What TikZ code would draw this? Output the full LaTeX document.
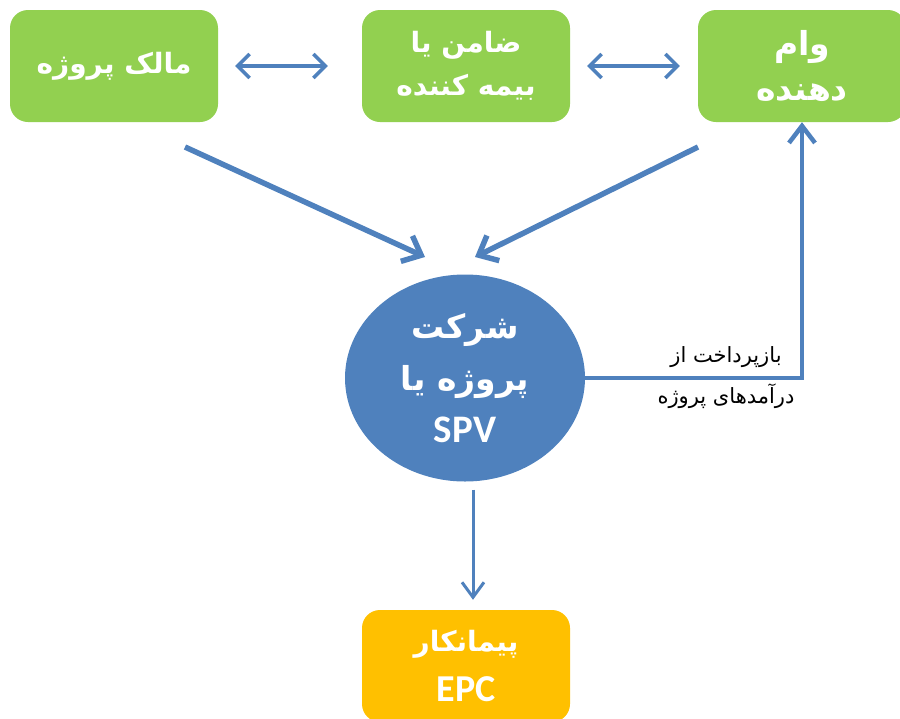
\documentclass[tikz,border=0pt]{standalone}
\usepackage{fontspec}
\usetikzlibrary{shapes.geometric,arrows.meta}
\TeXXeTstate=1
\newfontfamily\arabicfont[Script=Arabic]{DejaVu Sans}
\newfontfamily\calib{Carlito}
\definecolor{boxgreen}{HTML}{92D050}
\definecolor{arrblue}{HTML}{4F81BD}
\definecolor{epcorange}{HTML}{FFC000}
\newcommand{\rtlb}[1]{{\arabicfont\bfseries\beginR #1\endR}}
\newcommand{\rtlr}[1]{{\arabicfont\beginR #1\endR}}
\begin{document}
\begin{tikzpicture}[x=1pt,y=-1pt,
  greenbox/.style={fill=boxgreen, draw=none, rounded corners=18pt, minimum width=208pt, minimum height=112pt, text=white, align=center, font=\fontsize{28}{43}\selectfont, inner sep=0pt},
  orangebox/.style={greenbox, fill=epcorange, font=\fontsize{28}{50}\selectfont},
  dbl/.style={draw=arrblue, line width=3.5pt, {Straight Barb[length=12pt,width=24pt]}-{Straight Barb[length=12pt,width=24pt]}},
  thick arrow/.style={draw=arrblue, line width=5.5pt, -{Straight Barb[length=16pt,width=28pt]}},
  up arrow/.style={draw=arrblue, line width=4.5pt, -{Straight Barb[length=17pt,width=26pt]}},
  down arrow/.style={draw=arrblue, line width=3pt, -{Straight Barb[length=15pt,width=22pt]}}]
\useasboundingbox (0,0) rectangle (900,718);
\node[greenbox] (owner) at (114,66) {\rtlb{مالک پروژه}};
\node[greenbox] (guarantor) at (466,66) {\rtlb{ضامن یا}\\\rtlb{بیمه کننده}};
\node[greenbox, font=\fontsize{33}{45}\selectfont] (lender) at (802,66) {\rtlb{وام}\\\rtlb{دهنده}};
\node[ellipse, fill=arrblue, minimum width=240pt, minimum height=207pt, inner sep=0pt, text=white, align=center, font=\fontsize{33}{52}\selectfont] (spv) at (465,378) {\rtlb{شرکت}\\\rtlb{پروژه یا}\\{\calib\bfseries\fontsize{39}{52}\selectfont SPV}};
\node[orangebox] (epc) at (466,666) {\rtlb{پیمانکار}\\{\calib\bfseries\fontsize{38}{50}\selectfont EPC}};
\node[font=\fontsize{21}{41}\selectfont, align=center, inner sep=0pt] (lbl) at (726,378) {\rtlr{بازپرداخت از}\\\rtlr{درآمدهای پروژه}};
\coordinate (a1s) at (185,147);
\coordinate (a1e) at (425,257);
\coordinate (a2s) at (698,147);
\coordinate (a2e) at (475,257);
\draw[dbl, shorten <=17pt, shorten >=34pt] (owner.east) -- (guarantor.west);
\draw[dbl, shorten <=17pt, shorten >=18pt] (guarantor.east) -- (lender.west);
\draw[thick arrow] (a1s) -- (a1e);
\draw[thick arrow] (a2s) -- (a2e);
\draw[up arrow] (spv.east) -| (lender.south);
\draw[down arrow, shorten <=8pt, shorten >=10pt] ([xshift=8pt]spv.south) -- ([xshift=7pt]epc.north);
\end{tikzpicture}
\end{document}
